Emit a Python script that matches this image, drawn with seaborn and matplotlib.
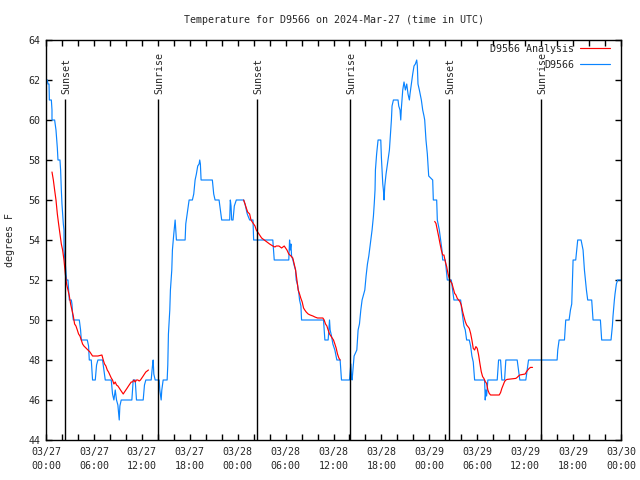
import pandas as pd
import matplotlib
matplotlib.use('Agg')
import matplotlib.pyplot as plt
from matplotlib.lines import Line2D
import seaborn as sns

start = pd.Timestamp('2024-03-27 00:00')

# station observations, hours since 03/27 00:00 UTC and degrees F
obs_hours = [0.0, 0.17, 0.25, 0.38, 0.42, 0.67, 0.75, 0.75, 1.08, 1.25, 1.42, 1.5, 1.75, 1.83, 1.92,
             2.0, 2.08, 2.17, 2.25, 2.25, 2.42, 2.58, 2.75, 2.83, 2.92, 3.17, 3.25, 3.33, 3.42, 4.17,
             4.33, 4.42, 5.17, 5.33, 5.42, 5.67, 5.83, 6.17, 6.33, 6.5, 7.08, 7.25, 7.42, 8.17, 8.33,
             8.5, 8.67, 8.83, 9.0, 9.17, 9.25, 9.42, 10.75, 10.92, 11.17, 11.33, 12.17, 12.33, 12.5,
             13.17, 13.33, 13.42, 13.5, 13.67, 14.17, 14.25, 14.42, 14.5, 14.67, 15.17, 15.25, 15.33,
             15.5, 15.58, 15.75, 15.83, 16.0, 16.17, 16.33, 17.42, 17.5, 17.67, 17.92, 18.33, 18.5,
             18.67, 18.83, 19.0, 19.17, 19.25, 19.33, 19.42, 20.83, 21.0, 21.17, 21.67, 21.83, 22.0,
             23.0, 23.08, 23.17, 23.25, 23.42, 23.58, 23.83, 24.75, 24.92, 25.2, 25.5, 25.92, 26.0,
             28.4, 28.58, 30.4, 30.5, 30.58, 30.67, 30.75, 30.92, 31.06, 31.25, 31.33, 31.5, 31.67,
             31.75, 31.92, 32.0, 34.75, 34.92, 35.33, 35.5, 35.58, 35.75, 35.92, 36.17, 36.42, 36.83,
             36.92, 37.0, 38.0, 38.17, 38.25, 38.33, 38.5, 38.58, 38.92, 39.08, 39.25, 39.42, 39.58,
             39.92, 40.08, 40.25, 40.42, 40.58, 40.83, 41.0, 41.1, 41.2, 41.25, 41.4, 41.58, 41.92,
             42.0, 42.17, 42.25, 42.33, 42.42, 42.58, 42.75, 43.0, 43.17, 43.25, 43.33, 43.5, 44.08,
             44.17, 44.33, 44.42, 44.5, 44.67, 44.83, 45.0, 45.17, 45.33, 45.5, 45.58, 45.75, 45.92,
             46.08, 46.25, 46.42, 46.5, 46.58, 46.75, 47.0, 47.17, 47.33, 47.42, 47.58, 47.75, 47.92,
             48.42, 48.5, 48.92, 49.0, 49.25, 49.42, 49.58, 49.67, 50.0, 50.25, 50.75, 50.92, 51.08,
             51.92, 52.0, 52.17, 52.33, 52.5, 52.67, 53.0, 53.17, 53.33, 53.5, 53.67, 54.92, 55.0,
             55.08, 55.17, 55.33, 56.5, 56.67, 56.92, 57.08, 57.42, 57.58, 59.0, 59.17, 59.33, 60.08,
             60.33, 60.42, 64.0, 64.08, 64.25, 64.92, 65.08, 65.5, 65.67, 65.83, 65.92, 66.0, 66.33,
             66.58, 67.0, 67.25, 67.42, 67.67, 67.83, 68.33, 68.5, 69.42, 69.58, 70.75, 70.92, 71.0,
             71.17, 71.25, 71.42, 71.58, 72.0]
obs_temps = [62.0, 62.0, 61.8, 61.8, 61.0, 61.0, 60.5, 60.0, 60.0, 59.5, 58.6, 58.0, 58.0, 57.5, 56.5,
             55.8, 55.3, 54.8, 54.5, 53.5, 52.8, 52.0, 52.0, 51.5, 51.0, 51.0, 50.8, 50.3, 50.0, 50.0,
             49.5, 49.0, 49.0, 48.7, 48.0, 48.0, 47.0, 47.0, 47.75, 48.0, 48.0, 47.5, 47.0, 47.0, 46.3,
             46.0, 46.5, 46.0, 45.75, 45.0, 45.7, 46.0, 46.0, 47.0, 47.0, 46.0, 46.0, 46.75, 47.0,
             47.0, 47.7, 48.0, 47.3, 47.0, 47.0, 46.5, 46.0, 46.5, 47.0, 47.0, 47.75, 49.3,
             50.5, 51.5, 52.5, 53.5, 54.3, 55.0, 54.0, 54.0, 54.8, 55.3, 56.0, 56.0, 56.3,
             57.0, 57.3, 57.7, 57.8, 58.0, 57.8, 57.0, 57.0, 56.3, 56.0, 56.0, 55.5, 55.0,
             55.0, 56.0, 55.7, 55.0, 55.0, 55.7, 56.0, 56.0, 55.8, 55.3, 55.0, 55.0, 54.0,
             54.0, 53.0, 53.0, 54.0, 53.5, 53.8, 53.2, 53.0, 52.75, 52.5, 52.0, 51.75, 51.3,
             51.0, 50.7, 50.0, 50.0, 49.0, 49.0, 50.0, 49.5, 49.2, 48.8, 48.5, 48.0, 48.0,
             47.5, 47.0, 47.0, 47.8, 47.2, 47.0, 47.8, 48.2, 48.5, 49.5, 49.8, 50.5, 51.0,
             51.5, 52.2, 52.8, 53.2, 53.7, 54.5, 55.2, 55.8, 56.5, 57.5, 58.3, 59.0, 59.0,
             58.1, 56.8, 56.5, 56.0, 56.7, 57.3, 57.8, 58.5, 59.5, 60.0, 60.7, 61.0, 61.0,
             60.7, 60.5, 60.0, 60.6, 61.5, 61.9, 61.5, 61.8, 61.3, 61.0, 61.3, 61.8, 62.3,
             62.7, 62.8, 63.0, 62.7, 61.8, 61.5, 61.0, 60.5, 60.2, 60.0, 59.0, 58.3, 57.2,
             57.0, 56.0, 56.0, 55.0, 54.5, 54.0, 53.5, 53.0, 53.0, 52.0, 52.0, 51.5, 51.0,
             51.0, 50.7, 50.2, 49.7, 49.5, 49.0, 49.0, 48.7, 48.2, 47.9, 47.0, 47.0, 46.0,
             46.5, 46.2, 47.0, 47.0, 48.0, 48.0, 47.0, 47.0, 48.0, 48.0, 47.5, 47.0, 47.0,
             47.75, 48.0, 48.0, 48.5, 49.0, 49.0, 50.0, 50.0, 50.5, 50.8, 52.0, 53.0, 53.0,
             54.0, 54.0, 53.5, 52.5, 51.5, 51.0, 51.0, 50.0, 50.0, 49.0, 49.0, 49.7, 50.2,
             51.0, 51.3, 51.8, 52.0, 52.0]

# analysis, one run per night
night1_hours = [0.75, 0.92, 1.08, 1.25, 1.42, 1.58, 1.75, 1.92, 2.08, 2.25, 2.42, 2.58, 2.75, 2.92,
                3.08, 3.25, 3.42, 3.58, 3.75, 3.92, 4.08, 4.25, 4.42, 4.58, 4.75, 5.0, 5.25, 5.5,
                5.83, 6.0, 6.5, 7.0, 7.17, 7.33, 7.5, 7.67, 7.83, 8.0, 8.17, 8.33, 8.5, 8.67, 8.83,
                9.0, 9.17, 9.33, 9.5, 9.67, 9.83, 10.0, 10.17, 10.33, 10.5, 10.67, 10.83, 11.0,
                11.17, 11.33, 11.5, 11.67, 11.83, 12.0, 12.17, 12.33, 12.5, 12.67, 12.83]
night1_temps = [57.4, 57.0, 56.5, 56.0, 55.3, 54.8, 54.3, 53.8, 53.5, 53.0, 52.3, 51.8, 51.5, 51.2,
                50.8, 50.5, 50.2, 49.8, 49.7, 49.5, 49.3, 49.2, 49.0, 48.8, 48.7, 48.6, 48.5, 48.4,
                48.2, 48.2, 48.2, 48.25, 48.0, 47.8, 47.7, 47.5, 47.4, 47.25, 47.1, 47.0, 46.8, 46.9, 46.75,
                46.7, 46.6, 46.5, 46.4, 46.3, 46.4, 46.5, 46.6, 46.7, 46.8, 46.9, 46.9, 47.0,
                46.9, 47.0, 47.0, 46.95, 47.0, 47.1, 47.2, 47.3, 47.4, 47.45, 47.5]
night2_hours = [24.75, 24.92, 25.08, 25.25, 25.5, 25.67, 25.83, 26.0, 26.17, 26.33, 26.5, 26.67, 26.83,
                27.0, 27.33, 27.67, 28.0, 28.4, 28.67, 28.83, 29.17, 29.5, 29.83, 30.0, 30.17, 30.4,
                30.67, 30.9, 31.08, 31.25, 31.42, 31.58, 31.75, 31.9, 32.08, 32.25, 32.4, 32.58,
                32.83, 33.08, 33.42, 33.67, 34.0, 34.33, 34.67, 34.83, 35.0, 35.17, 35.33, 35.5,
                35.67, 35.83, 36.0, 36.17, 36.33, 36.5, 36.67, 36.83]
night2_temps = [56.0, 55.8, 55.6, 55.4, 55.3, 55.0, 54.9, 54.8, 54.7, 54.5, 54.4, 54.3, 54.2,
                54.1, 54.0, 53.9, 53.8, 53.7, 53.65, 53.7, 53.7, 53.6, 53.7, 53.6, 53.5, 53.3,
                53.2, 53.1, 52.8, 52.5, 52.0, 51.5, 51.3, 51.1, 50.9, 50.6, 50.5, 50.4,
                50.3, 50.25, 50.2, 50.15, 50.1, 50.1, 50.1, 50.0, 49.8, 49.7, 49.5, 49.3,
                49.2, 49.1, 49.0, 48.8, 48.6, 48.3, 48.1, 48.0]
night3_hours = [48.67, 48.83, 49.0, 49.17, 49.33, 49.5, 49.67, 49.83, 50.0, 50.17, 50.33, 50.5, 50.67,
                50.83, 51.0, 51.17, 51.33, 51.5, 51.67, 51.83, 52.0, 52.17, 52.33, 52.5, 52.67,
                52.83, 53.0, 53.17, 53.33, 53.5, 53.67, 53.83, 54.0, 54.17, 54.33, 54.5, 54.67,
                54.83, 55.0, 55.17, 55.33, 55.5, 55.67, 56.75, 56.92, 57.08, 57.25, 57.42, 57.58,
                57.75, 58.83, 59.0, 59.17, 59.33, 60.0, 60.17, 60.33, 60.5, 60.67, 60.92]
night3_temps = [54.93, 54.83, 54.5, 54.17, 53.83, 53.5, 53.25, 53.25, 52.92, 52.67, 52.33, 52.08, 51.92,
                51.83, 51.58, 51.33, 51.25, 51.08, 51.0, 50.92, 50.75, 50.42, 50.17, 49.92, 49.75,
                49.67, 49.58, 49.33, 49.0, 48.58, 48.5, 48.67, 48.58, 48.25, 47.83, 47.42, 47.17,
                47.08, 46.92, 46.83, 46.5, 46.33, 46.25, 46.25, 46.37, 46.58, 46.75, 46.92, 47.0,
                47.03, 47.08, 47.13, 47.2, 47.25, 47.3, 47.42, 47.5, 47.58, 47.63, 47.63]

event_hours = [2.38, 14.03, 26.40, 38.01, 50.42, 61.94]
event_names = ['Sunset', 'Sunrise', 'Sunset', 'Sunrise', 'Sunset', 'Sunrise']

obs_color = '#0a84ff'
ana_color = '#ff0000'

obs = pd.DataFrame({'time': start + pd.to_timedelta(obs_hours, unit='h'), 'temp': obs_temps})
ana = pd.concat([
    pd.DataFrame({'time': start + pd.to_timedelta(h, unit='h'), 'temp': t, 'night': i})
    for i, (h, t) in enumerate([(night1_hours, night1_temps),
                                (night2_hours, night2_temps),
                                (night3_hours, night3_temps)])
])

sns.set_style('ticks')
plt.rcParams['font.family'] = ['DejaVu Sans Mono']

fig = plt.figure(figsize=(6.4, 4.8), dpi=100)
ax = fig.add_axes([46 / 640, 40 / 480, 575 / 640, 400 / 480])

sns.lineplot(data=obs, x='time', y='temp', sort=False, estimator=None,
             color=obs_color, linewidth=0.85, ax=ax)
sns.lineplot(data=ana, x='time', y='temp', units='night', sort=False, estimator=None,
             color=ana_color, linewidth=0.85, ax=ax)

for h, name in zip(event_hours, event_names):
    t = start + pd.Timedelta(hours=h)
    ax.vlines(t, 44, 61.05, color='black', linewidth=1.0)
    ax.text(t + pd.Timedelta(hours=0.2), 61.3, name, rotation=90,
            ha='center', va='bottom', fontsize=7.2)

ax.set_xlim(start, start + pd.Timedelta(hours=72))
ax.set_ylim(44, 64)

major = pd.date_range(start, periods=13, freq='6h')
minor = pd.date_range(start, periods=37, freq='2h')
ax.set_xticks(major)
ax.set_xticklabels([t.strftime('%m/%d\n%H:%M') for t in major], linespacing=1.45)
ax.set_xticks(minor, minor=True)
ax.set_yticks(range(44, 65, 2))

ax.tick_params(axis='both', which='both', direction='in', length=4, width=1,
               top=True, right=True, labelsize=7.2, color='black')
ax.tick_params(axis='x', pad=5)
ax.tick_params(axis='y', pad=4)
for s in ax.spines.values():
    s.set_visible(True)
    s.set_linewidth(1)
    s.set_color('black')

ax.set_xlabel('')
ax.set_ylabel('degrees F', fontsize=7.2, labelpad=10)
ax.set_title('Temperature for D9566 on 2024-Mar-27 (time in UTC)', fontsize=7.2, pad=12)

handles = [Line2D([], [], color=ana_color, linewidth=0.85),
           Line2D([], [], color=obs_color, linewidth=0.85)]
ax.legend(handles, ['D9566 Analysis', 'D9566'], loc='upper right',
          bbox_to_anchor=(0.981, 0.99), borderaxespad=0, borderpad=0,
          frameon=False, markerfirst=False, handlelength=3.0, handletextpad=0.6,
          labelspacing=0.6, fontsize=7.2)

fig.savefig('out.png', dpi=100)
